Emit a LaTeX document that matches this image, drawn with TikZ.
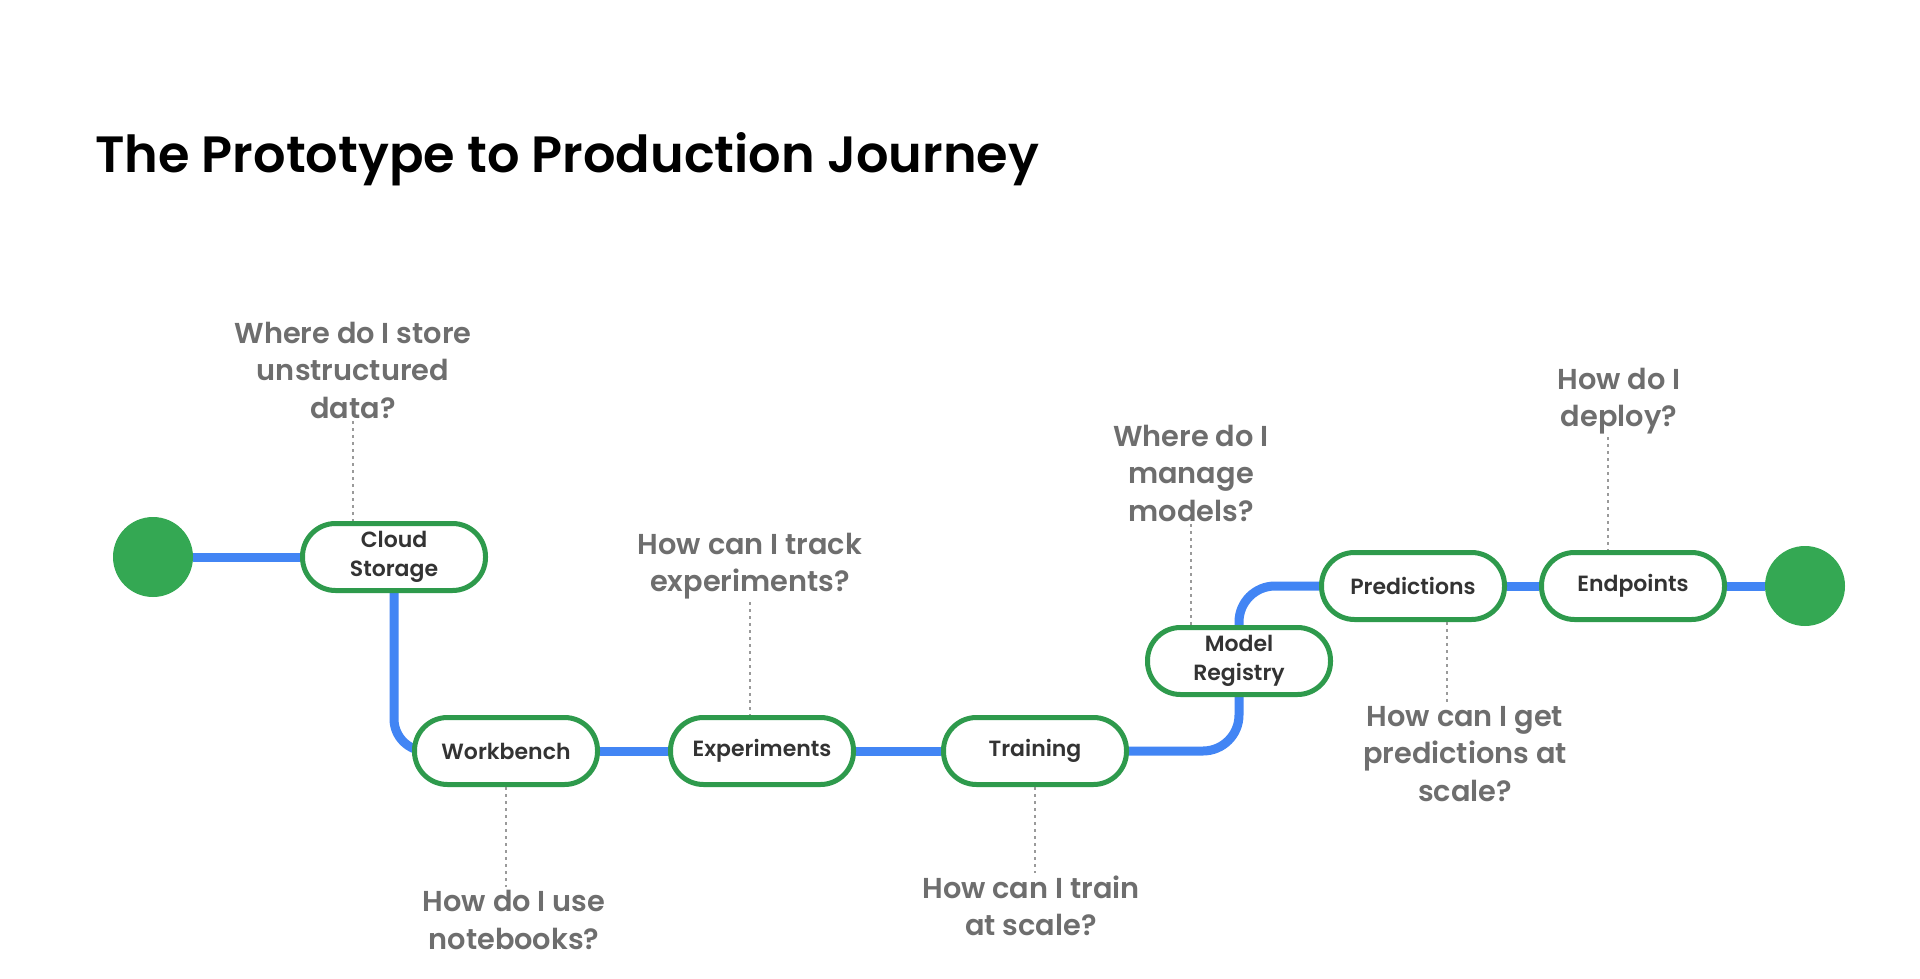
\documentclass[tikz,border=0pt]{standalone}
\usepackage{fontspec}
\setmainfont{Poppins}
\newfontfamily\pmed{Poppins Medium}
\newfontfamily\psemi{Poppins SemiBold}
\usetikzlibrary{backgrounds}
\definecolor{gblue}{HTML}{4285F4}
\definecolor{ggreen}{HTML}{34A853}
\definecolor{gborder}{HTML}{2E9A4C}
\definecolor{qgray}{HTML}{6E6E6E}
\definecolor{ntext}{HTML}{333333}
\definecolor{dotgray}{HTML}{9A9A9A}
\begin{document}
\begin{tikzpicture}[x=1pt,y=-1pt,
  stage/.style={draw=gborder, line width=5pt, fill=white, rounded corners=33pt,
    minimum width=183pt, minimum height=67pt, inner sep=0pt, align=center,
    text=ntext, font=\psemi\fontsize{22}{28.5}\selectfont},
  terminal/.style={circle, fill=ggreen, minimum size=80pt, inner sep=0pt},
  question/.style={align=center, text=qgray, inner sep=3pt,
    font=\psemi\fontsize{28.8}{37.5}\selectfont},
  track/.style={draw=gblue, line width=9pt},
  dotline/.style={draw=dotgray, line width=1.6pt, dash pattern=on 3pt off 4pt}]
\useasboundingbox (0,0) rectangle (1920,979);
\node[anchor=base west, inner sep=0pt, font=\psemi\fontsize{51}{60}\selectfont] (title) at (95,172) {The Prototype to Production Journey};

\node[terminal] (start) at (153,557) {};
\node[terminal] (finish) at (1805,586) {};
\node[stage] (cs) at (394,557) {Cloud\\Storage};
\node[stage] (wb) at (506,751) {Workbench};
\node[stage] (ex) at (762,751) {Experiments};
\node[stage] (tr) at (1035,751) {Training};
\node[stage] (mr) at (1239,661) {Model\\Registry};
\node[stage] (pr) at (1413,586) {Predictions};
\node[stage] (ep) at (1633,586) {Endpoints};

\node[question] (q1) at (353,370) {Where do I store\\unstructured\\data?};
\node[question] (q2) at (750,566) {How can I track\\experiments?};
\node[question] (q3) at (514,920) {How do I use\\notebooks?};
\node[question] (q4) at (1031,906) {How can I train\\at scale?};
\node[question] (q5) at (1191,473) {Where do I\\manage\\models?};
\node[question] (q6) at (1465,754) {How can I get\\predictions at\\scale?};
\node[question] (q7) at (1619,401) {How do I\\deploy?};
\coordinate (d6) at (1447,0);
\coordinate (d7) at (1608,0);

\begin{pgfonlayer}{background}
\fill[white] (0,0) rectangle (1920,979);
\draw[track] (start) -- (cs);
\draw[track, rounded corners=32pt] (cs) -- (cs |- wb) -- (wb);
\draw[track] (wb) -- (ex) -- (tr);
\draw[track, rounded corners=36pt] (tr) -- (tr -| mr) -- (mr);
\draw[track, rounded corners=36pt] (mr) -- (mr |- pr) -- (pr);
\draw[track] (pr) -- (ep) -- (finish);
\end{pgfonlayer}

\draw[dotline] (q1.south) -- (q1.south |- cs.north);
\draw[dotline] (q2.south) -- (q2.south |- ex.north);
\draw[dotline] (wb.south) -- (wb.south |- q3.north);
\draw[dotline] (tr.south) -- (tr.south |- q4.north);
\draw[dotline] (q5.south) -- (q5.south |- mr.north);
\draw[dotline] (pr.south -| d6) -- (q6.north -| d6);
\draw[dotline] (q7.south -| d7) -- (ep.north -| d7);
\end{tikzpicture}
\end{document}
